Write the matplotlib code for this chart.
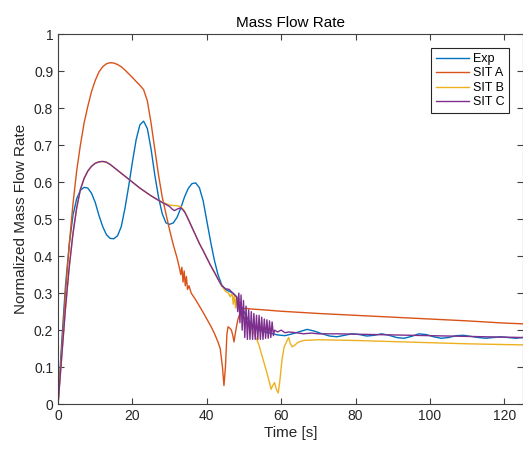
import matplotlib
matplotlib.use("Agg")
import matplotlib.pyplot as plt

# Exp (measured)
exp_t = [0, 1, 2, 3, 4, 5, 6, 7, 8, 9, 10, 11, 12, 13, 14, 15, 16, 17, 18, 19,
         20, 21, 22, 23, 24, 25, 26, 27, 28, 29, 30, 31, 32, 33, 34, 35, 36, 37,
         38, 39, 40, 41, 42, 43, 44, 45, 46, 47, 48, 49, 50, 51, 52, 53, 55, 57,
         59, 61, 63, 65, 67, 69, 71, 73, 75, 77, 79, 81, 83, 85, 87, 89, 91, 93,
         95, 97, 99, 101, 103, 105, 107, 109, 111, 113, 115, 117, 119, 121, 123, 125]
exp_v = [0, 0.17, 0.32, 0.43, 0.51, 0.555, 0.578, 0.586, 0.584, 0.57, 0.545, 0.51,
         0.48, 0.458, 0.448, 0.447, 0.455, 0.48, 0.53, 0.59, 0.655, 0.715, 0.755,
         0.765, 0.745, 0.69, 0.62, 0.56, 0.515, 0.49, 0.486, 0.49, 0.505, 0.53, 0.56,
         0.583, 0.596, 0.598, 0.585, 0.55, 0.495, 0.44, 0.39, 0.35, 0.322, 0.31,
         0.305, 0.3, 0.29, 0.27, 0.25, 0.23, 0.215, 0.205, 0.197, 0.192, 0.187,
         0.185, 0.19, 0.196, 0.202, 0.197, 0.19, 0.184, 0.182, 0.186, 0.19, 0.188,
         0.184, 0.186, 0.19, 0.186, 0.18, 0.178, 0.183, 0.19, 0.188, 0.182, 0.178,
         0.18, 0.185, 0.186, 0.183, 0.18, 0.178, 0.18, 0.182, 0.18, 0.178, 0.18]

# SIT A
sita_t = [0, 1, 2, 3, 4, 5, 6, 7, 8, 9, 10, 11, 12, 13, 14, 15, 16, 17, 18, 19,
          20, 21, 22, 23, 24, 25, 26, 27, 28, 29, 30, 31, 32, 32.7, 33.0, 33.3,
          33.6, 33.9, 34.2, 34.5, 34.8, 35.2, 35.8, 37, 38, 39, 40, 41, 42, 43,
          43.6, 44.2, 44.6, 45.0, 45.4, 45.7, 46.2, 46.6, 47.0, 47.3, 47.8, 48.3,
          49.2, 50.3, 52, 55, 60, 70, 80, 90, 100, 110, 120, 125]
sita_v = [0, 0.15, 0.3, 0.43, 0.54, 0.63, 0.7, 0.76, 0.805, 0.845, 0.875, 0.898,
          0.912, 0.92, 0.923, 0.922, 0.918, 0.912, 0.903, 0.893, 0.883, 0.872,
          0.862, 0.85, 0.82, 0.76, 0.69, 0.62, 0.56, 0.515, 0.47, 0.43, 0.395,
          0.365, 0.35, 0.37, 0.33, 0.36, 0.32, 0.345, 0.31, 0.32, 0.3, 0.282,
          0.265, 0.248, 0.23, 0.212, 0.192, 0.168, 0.15, 0.1, 0.05, 0.1, 0.19,
          0.209, 0.205, 0.2, 0.185, 0.168, 0.2, 0.227, 0.254, 0.259, 0.257, 0.255,
          0.251, 0.245, 0.24, 0.235, 0.23, 0.225, 0.219, 0.217]

# SIT B
sitb_t = [0, 1, 2, 3, 4, 5, 6, 7, 8, 9, 10, 11, 12, 13, 14, 16, 18, 20, 22, 24,
          26, 28, 30, 31, 32, 33, 34, 35, 36, 37, 38, 39, 40, 41, 42, 43, 44, 45,
          45.8, 46.3, 46.8, 47.1, 47.4, 47.7, 48.0, 48.3, 48.6, 49, 50, 51, 52,
          53, 54, 55, 56, 56.8, 57.3, 57.7, 58.2, 58.7, 59.2, 59.6, 60.2, 60.8,
          61.5, 62.0, 62.4, 62.9, 63.5, 64.5, 66, 70, 80, 90, 100, 110, 120, 125]
sitb_v = [0, 0.13, 0.26, 0.37, 0.46, 0.53, 0.58, 0.61, 0.63, 0.643, 0.651, 0.655,
          0.656, 0.654, 0.648, 0.632, 0.616, 0.6, 0.584, 0.57, 0.557, 0.546, 0.538,
          0.537, 0.536, 0.534, 0.522, 0.5, 0.478, 0.456, 0.434, 0.415, 0.395, 0.375,
          0.357, 0.338, 0.32, 0.305, 0.3, 0.29, 0.3, 0.27, 0.295, 0.26, 0.29, 0.255,
          0.285, 0.26, 0.235, 0.22, 0.205, 0.185, 0.16, 0.125, 0.09, 0.06, 0.04,
          0.05, 0.058, 0.04, 0.03, 0.06, 0.12, 0.155, 0.17, 0.18, 0.165, 0.155,
          0.158, 0.167, 0.172, 0.174, 0.172, 0.169, 0.166, 0.163, 0.161, 0.16]

# SIT C
sitc_t = [0, 1, 2, 3, 4, 5, 6, 7, 8, 9, 10, 11, 12, 13, 14, 15, 16, 17, 18, 19,
          20, 21, 22, 23, 24, 25, 26, 27, 28, 29, 30, 30.7, 31.3, 32, 33, 34, 35,
          36, 37, 38, 39, 40, 41, 42, 43, 44, 45, 46, 47, 48.0, 48.3, 48.6, 48.9,
          49.2, 49.5, 49.85, 50.2, 50.55, 50.9, 51.25, 51.6, 51.95, 52.3, 52.65,
          53.0, 53.35, 53.7, 54.05, 54.4, 54.75, 55.1, 55.45, 55.8, 56.15, 56.5,
          56.85, 57.2, 57.55, 57.9, 58.2, 59, 60, 61, 62, 64, 66, 68, 70, 75, 80,
          85, 90, 95, 100, 105, 110, 115, 120, 125]
sitc_v = [0, 0.13, 0.26, 0.37, 0.46, 0.53, 0.58, 0.61, 0.63, 0.643, 0.651, 0.655,
          0.656, 0.654, 0.648, 0.64, 0.632, 0.624, 0.616, 0.608, 0.6, 0.592, 0.584,
          0.577, 0.57, 0.563, 0.557, 0.551, 0.545, 0.54, 0.534, 0.527, 0.523, 0.527,
          0.531, 0.52, 0.5, 0.478, 0.456, 0.434, 0.415, 0.395, 0.375, 0.357, 0.338,
          0.32, 0.312, 0.31, 0.3, 0.29, 0.25, 0.3, 0.22, 0.295, 0.2, 0.28, 0.18,
          0.265, 0.175, 0.255, 0.175, 0.25, 0.175, 0.245, 0.175, 0.24, 0.175, 0.24,
          0.175, 0.235, 0.175, 0.23, 0.178, 0.228, 0.178, 0.225, 0.18, 0.222, 0.185,
          0.2, 0.195, 0.2, 0.193, 0.195, 0.193, 0.19, 0.192, 0.19, 0.19, 0.189,
          0.188, 0.187, 0.186, 0.185, 0.184, 0.183, 0.182, 0.181, 0.18]

plt.rcParams.update({
    "font.family": "Liberation Sans",
    "font.size": 10,
    "axes.edgecolor": "#404040",
    "xtick.color": "#404040",
    "ytick.color": "#404040",
})

fig = plt.figure(figsize=(5.23, 4.5), dpi=100)
ax = fig.add_axes([0.111, 0.102, 0.889, 0.822])

ax.plot(exp_t, exp_v, color="#0072BD", linewidth=1.0, label="Exp")
ax.plot(sita_t, sita_v, color="#D95319", linewidth=1.0, label="SIT A")
ax.plot(sitb_t, sitb_v, color="#EDB120", linewidth=1.0, label="SIT B")
ax.plot(sitc_t, sitc_v, color="#7E2F8E", linewidth=1.0, label="SIT C")

ax.set_xlim(0, 125)
ax.set_ylim(0, 1)
ax.set_xticks([0, 20, 40, 60, 80, 100, 120])
ax.set_yticks([0, 0.1, 0.2, 0.3, 0.4, 0.5, 0.6, 0.7, 0.8, 0.9, 1])
ax.set_yticklabels(["0", "0.1", "0.2", "0.3", "0.4", "0.5", "0.6", "0.7", "0.8", "0.9", "1"])
ax.tick_params(direction="in", top=True, right=True, length=4, labelsize=10,
               labelcolor="#262626")
ax.set_xlabel("Time [s]", fontsize=11, color="#262626", labelpad=2)
ax.set_ylabel("Normalized Mass Flow Rate", fontsize=11, color="#262626", labelpad=4)
ax.set_title("Mass Flow Rate", fontsize=11, color="#000000", pad=5)

leg = ax.legend(loc="upper right", fontsize=9, frameon=True, fancybox=False,
                edgecolor="#262626", framealpha=1, handlelength=2.6,
                borderaxespad=1.1, labelspacing=0.2, handletextpad=0.3,
                borderpad=0.4)
leg.get_frame().set_linewidth(0.8)

fig.savefig("out.png", dpi=100)
